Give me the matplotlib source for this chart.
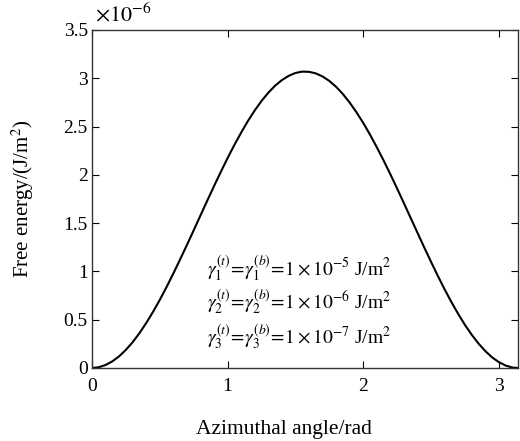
import matplotlib
matplotlib.use("Agg")
import matplotlib.pyplot as plt
import numpy as np

plt.rcParams['font.family'] = ['Liberation Serif', 'DejaVu Serif']
plt.rcParams['mathtext.fontset'] = 'stix'

# Azimuthal angle (rad) and free energy (x1e-6 J/m^2)
angle = [0.0, 0.05, 0.1, 0.15, 0.2, 0.25, 0.3, 0.35, 0.4, 0.45, 0.5, 0.55,
         0.6, 0.65, 0.7, 0.75, 0.8, 0.85, 0.9, 0.95, 1.0, 1.05, 1.1, 1.15,
         1.2, 1.25, 1.3, 1.35, 1.4, 1.45, 1.5, 1.55, 1.6, 1.65, 1.7, 1.75,
         1.8, 1.85, 1.9, 1.95, 2.0, 2.05, 2.1, 2.15, 2.2, 2.25, 2.3, 2.35,
         2.4, 2.45, 2.5, 2.55, 2.6, 2.65, 2.7, 2.75, 2.8, 2.85, 2.9, 2.95,
         3.0, 3.05, 3.1, 3.1416]
energy = [0.0, 0.008, 0.031, 0.069, 0.121, 0.188, 0.268, 0.361, 0.466, 0.581,
          0.706, 0.839, 0.979, 1.125, 1.274, 1.426, 1.580, 1.733, 1.884, 2.031,
          2.174, 2.310, 2.438, 2.558, 2.667, 2.765, 2.850, 2.923, 2.981, 3.025,
          3.055, 3.069, 3.067, 3.051, 3.019, 2.973, 2.912, 2.837, 2.749, 2.649,
          2.538, 2.417, 2.287, 2.150, 2.007, 1.859, 1.707, 1.554, 1.401, 1.249,
          1.100, 0.955, 0.816, 0.684, 0.561, 0.447, 0.345, 0.254, 0.176, 0.111,
          0.061, 0.026, 0.005, 0.0]

xticks = [0, 1, 2, 3]
yticks = [0, 0.5, 1, 1.5, 2, 2.5, 3, 3.5]
ytick_labels = ['0', '0.5', '1', '1.5', '2', '2.5', '3', '3.5']

annot = [
    r'$\gamma_1^{(t)}\!=\!\gamma_1^{(b)}\!=\!1\times10^{-5}$ J/m$^2$',
    r'$\gamma_2^{(t)}\!=\!\gamma_2^{(b)}\!=\!1\times10^{-6}$ J/m$^2$',
    r'$\gamma_3^{(t)}\!=\!\gamma_3^{(b)}\!=\!1\times10^{-7}$ J/m$^2$',
]
annot_y = [1.036, 0.683, 0.321]

fig = plt.figure(figsize=(5.2, 4.41), dpi=100)
ax = fig.add_axes([92/520, 1 - 368/441, (518-92)/520, (368-30)/441])
ax.plot(angle, energy, color='black', lw=1.5)
ax.set_xlim(0, np.pi)
ax.set_ylim(0, 3.5)
ax.set_xticks(xticks)
ax.set_yticks(yticks)
ax.set_yticklabels(ytick_labels)
ax.tick_params(direction='in', top=True, right=True, length=5, width=0.8,
               labelsize=14, colors='black')
ax.tick_params(axis='x', pad=7)
ax.tick_params(axis='y', pad=3)
for s in ax.spines.values():
    s.set_linewidth(1.0)
    s.set_color('#333333')

ax.set_xlabel('Azimuthal angle/rad', fontsize=15.5, labelpad=16)
ax.xaxis.set_label_coords(0.45, -0.155)
ax.set_ylabel(r'Free energy/(J/m$^2$)', fontsize=15, labelpad=20)

fig.text(95/520, 1 - 15/441, r'$\times10^{-6}$', fontsize=16, ha='left', va='center')

for t, yv in zip(annot, annot_y):
    ax.text(1.53, yv, t, fontsize=14, ha='center', va='center')

fig.savefig('out.png', dpi=100)
